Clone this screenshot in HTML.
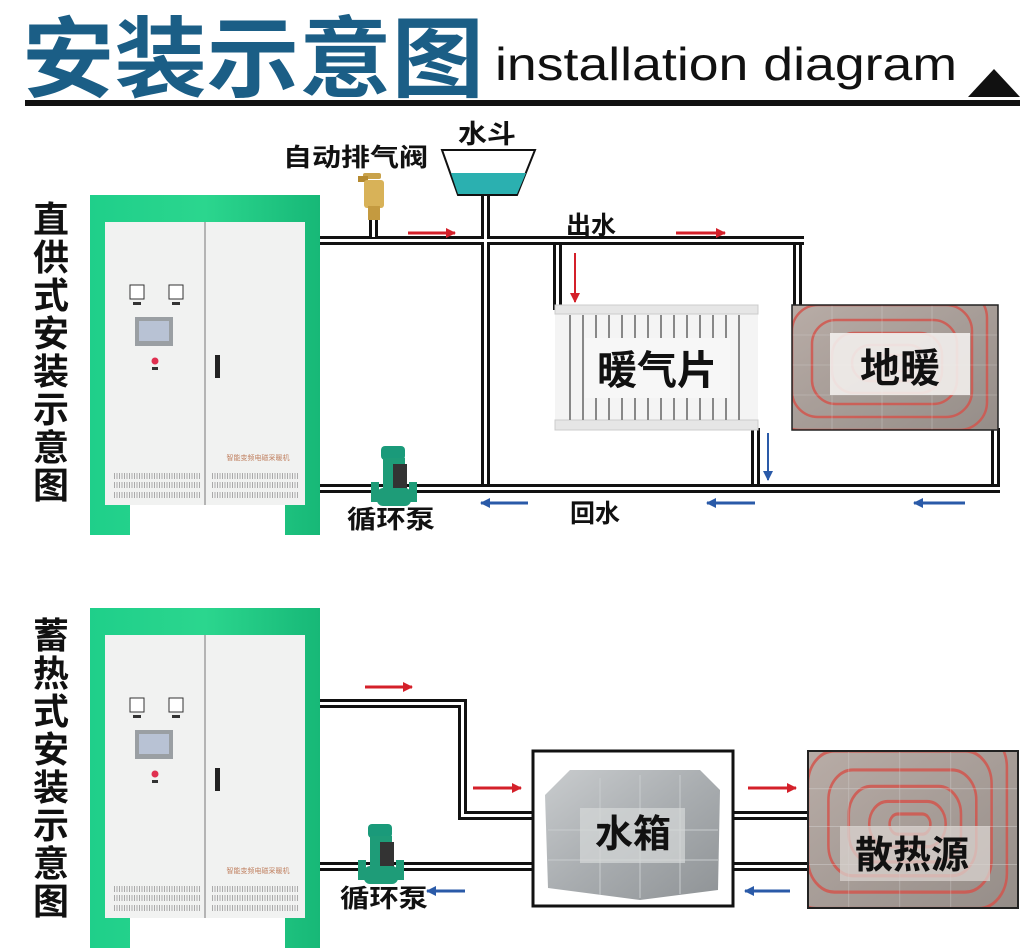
<!DOCTYPE html>
<html><head><meta charset="utf-8"><style>
html,body{margin:0;padding:0;background:#fff;}
svg{display:block;}
text{font-family:"Liberation Sans","Noto Sans CJK SC",sans-serif;}
</style></head><body>
<svg width="1025" height="950" viewBox="0 0 1025 950" xmlns="http://www.w3.org/2000/svg">
<defs>
  <marker id="ar" markerWidth="10" markerHeight="10" refX="9" refY="5" orient="auto" markerUnits="userSpaceOnUse"><path d="M0,0 L10,5 L0,10 Z" fill="#d4202a"/></marker>
  <marker id="ab" markerWidth="10" markerHeight="10" refX="9" refY="5" orient="auto" markerUnits="userSpaceOnUse"><path d="M0,0 L10,5 L0,10 Z" fill="#2a5aa8"/></marker>
  <linearGradient id="gr" x1="0" x2="1"><stop offset="0" stop-color="#1fcf8a"/><stop offset="0.5" stop-color="#2bd68e"/><stop offset="1" stop-color="#17b877"/></linearGradient>
  <linearGradient id="tank" x1="0" x2="1" y1="0" y2="1"><stop offset="0" stop-color="#c9ccce"/><stop offset="0.5" stop-color="#a9adb0"/><stop offset="1" stop-color="#8f9396"/></linearGradient>
  <linearGradient id="floor" x1="0" x2="1" y1="0" y2="1"><stop offset="0" stop-color="#b8aca6"/><stop offset="1" stop-color="#958d88"/></linearGradient>
  <clipPath id="fc"><rect x="0" y="0" width="206" height="125"/></clipPath>
  <g id="cab">
    <path d="M90,195 H320 V535 H285 V505 H130 V535 H90 Z" fill="url(#gr)"/>
    <rect x="105" y="222" width="200" height="283" fill="#f1f2f1"/>
    <line x1="205" y1="222" x2="205" y2="505" stroke="#777" stroke-width="1"/>
    <rect x="130" y="285" width="14" height="14" fill="#fff" stroke="#333"/>
    <rect x="169" y="285" width="14" height="14" fill="#fff" stroke="#333"/>
    <rect x="133" y="302" width="8" height="3" fill="#333"/>
    <rect x="172" y="302" width="8" height="3" fill="#333"/>
    <rect x="135" y="317" width="38" height="29" fill="#9a9fa3"/>
    <rect x="139" y="321" width="30" height="20" fill="#b8c2d4"/>
    <circle cx="155" cy="361" r="3.5" fill="#e03050"/>
    <rect x="152" y="367" width="6" height="3" fill="#333"/>
    <rect x="215" y="355" width="5" height="23" fill="#222"/>
    <g stroke="#aaa" stroke-width="6" stroke-dasharray="1 1.5">
      <line x1="114" y1="476" x2="200" y2="476"/><line x1="114" y1="485" x2="200" y2="485"/><line x1="114" y1="495" x2="200" y2="495"/>
      <line x1="212" y1="476" x2="298" y2="476"/><line x1="212" y1="485" x2="298" y2="485"/><line x1="212" y1="495" x2="298" y2="495"/>
    </g>
    <text x="258" y="460" font-size="7" fill="#c08060" text-anchor="middle">智能变频电磁采暖机</text>
  </g>
  <g id="pump">
    <rect x="-12" y="-42" width="24" height="14" rx="4" fill="#1a9a7a"/>
    <rect x="-10" y="-30" width="22" height="32" fill="#1e9c78"/>
    <rect x="0" y="-24" width="14" height="26" fill="#333"/>
    <rect x="-22" y="-6" width="8" height="20" fill="#1e9c78"/>
    <rect x="16" y="-6" width="8" height="20" fill="#1e9c78"/>
    <rect x="-16" y="0" width="34" height="18" rx="6" fill="#1e9c78"/>
  </g>
  <g id="floorimg">
    <g clip-path="url(#fc)">
    <rect x="0" y="0" width="206" height="125" fill="url(#floor)"/>
    <g fill="none" stroke="#d2564e" stroke-width="2.5" opacity="0.85">
      <rect x="-40" y="-30" width="250" height="170" rx="30"/>
      <rect x="-20" y="-15" width="215" height="140" rx="28"/>
      <rect x="0" y="0" width="180" height="112" rx="26"/>
      <rect x="20" y="15" width="145" height="84" rx="24"/>
      <rect x="40" y="28" width="110" height="60" rx="22"/>
      <rect x="60" y="40" width="75" height="36" rx="18"/>
      <rect x="80" y="50" width="40" height="16" rx="8"/>
    </g>
    <g stroke="#ddd" stroke-width="0.6" opacity="0.5">
      <line x1="0" y1="30" x2="206" y2="30"/><line x1="0" y1="60" x2="206" y2="60"/><line x1="0" y1="90" x2="206" y2="90"/>
      <line x1="40" y1="0" x2="40" y2="125"/><line x1="90" y1="0" x2="90" y2="125"/><line x1="140" y1="0" x2="140" y2="125"/>
    </g>
    </g>
  </g>
</defs>

<!-- Header -->
<text x="22" y="90" font-size="88" font-weight="bold" fill="#1b5e86" textLength="462" lengthAdjust="spacingAndGlyphs">安装示意图</text>
<text x="495" y="80" font-size="46" fill="#111" textLength="462" lengthAdjust="spacingAndGlyphs">installation diagram</text>
<rect x="25" y="100" width="995" height="6" fill="#111"/>
<path d="M968,97 L994,69 L1020,97 Z" fill="#111"/>

<!-- Side labels -->
<g font-size="36" font-weight="bold" fill="#111" text-anchor="middle">
  <text x="51" y="232">直</text><text x="51" y="270">供</text><text x="51" y="308">式</text><text x="51" y="346">安</text>
  <text x="51" y="384">装</text><text x="51" y="422">示</text><text x="51" y="460">意</text><text x="51" y="498">图</text>
  <text x="51" y="648">蓄</text><text x="51" y="686">热</text><text x="51" y="724">式</text><text x="51" y="762">安</text>
  <text x="51" y="800">装</text><text x="51" y="838">示</text><text x="51" y="876">意</text><text x="51" y="914">图</text>
</g>

<use href="#cab"/>
<use href="#cab" transform="translate(0,413)"/>

<!-- Top pipes -->
<g fill="#111">
  <rect x="320" y="236" width="484" height="9"/>
  <rect x="320" y="484" width="680" height="9"/>
  <rect x="481" y="195" width="9" height="298"/>
  <rect x="369" y="218" width="9" height="24"/>
  <rect x="553" y="240" width="9" height="70"/>
  <rect x="793" y="240" width="9" height="66"/>
  <rect x="751" y="428" width="9" height="60"/>
  <rect x="991" y="428" width="9" height="60"/>
</g>
<g fill="#fff">
  <rect x="320" y="239" width="484" height="3"/>
  <rect x="320" y="487" width="680" height="3"/>
  <rect x="484" y="195" width="3" height="289"/>
  <rect x="372" y="218" width="3" height="19"/>
  <rect x="556" y="245" width="3" height="65"/>
  <rect x="796" y="245" width="3" height="61"/>
  <rect x="754" y="428" width="3" height="56"/>
  <rect x="994" y="428" width="3" height="56"/>
</g>

<!-- valve -->
<rect x="363" y="173" width="18" height="6" rx="2" fill="#c9a24a"/>
<rect x="358" y="176" width="10" height="6" fill="#b58a30"/>
<rect x="364" y="180" width="20" height="28" rx="3" fill="#d8b258"/>
<rect x="368" y="206" width="12" height="14" fill="#c49a40"/>
<text x="283" y="166" font-size="25" font-weight="bold" fill="#111" textLength="145" lengthAdjust="spacingAndGlyphs">自动排气阀</text>

<!-- funnel -->
<path d="M442,150 L535,150 L517,195 L458,195 Z" fill="#fff" stroke="#111" stroke-width="2"/>
<path d="M451,173 L526,173 L517,194 L458,194 Z" fill="#2bb0b0"/>
<text x="458" y="143" font-size="26" font-weight="bold" fill="#111" textLength="58" lengthAdjust="spacingAndGlyphs">水斗</text>

<text x="566" y="234" font-size="25" font-weight="bold" fill="#111">出水</text>
<text x="570" y="522" font-size="25" font-weight="bold" fill="#111">回水</text>

<!-- radiator -->
<rect x="555" y="305" width="203" height="125" fill="#f4f4f4"/>
<rect x="555" y="305" width="203" height="9" fill="#e6e6e6" stroke="#ccc"/>
<rect x="555" y="420" width="203" height="10" fill="#e6e6e6" stroke="#ccc"/>
<g stroke="#888" stroke-width="2">
  <line x1="570" y1="315" x2="570" y2="420"/><line x1="583" y1="315" x2="583" y2="420"/><line x1="596" y1="315" x2="596" y2="420"/>
  <line x1="609" y1="315" x2="609" y2="420"/><line x1="622" y1="315" x2="622" y2="420"/><line x1="635" y1="315" x2="635" y2="420"/>
  <line x1="648" y1="315" x2="648" y2="420"/><line x1="661" y1="315" x2="661" y2="420"/><line x1="674" y1="315" x2="674" y2="420"/>
  <line x1="687" y1="315" x2="687" y2="420"/><line x1="700" y1="315" x2="700" y2="420"/><line x1="713" y1="315" x2="713" y2="420"/>
  <line x1="726" y1="315" x2="726" y2="420"/><line x1="739" y1="315" x2="739" y2="420"/>
</g>
<rect x="585" y="338" width="145" height="60" fill="#f7f7f7"/>
<text x="657" y="384" font-size="40" font-weight="bold" fill="#111" text-anchor="middle">暖气片</text>

<!-- floor heating -->
<g transform="translate(792,305)"><use href="#floorimg"/></g>
<rect x="792" y="305" width="206" height="125" fill="none" stroke="#222" stroke-width="1.5"/>
<rect x="830" y="333" width="140" height="62" fill="#f2eeec" opacity="0.9"/>
<text x="900" y="382" font-size="40" font-weight="bold" fill="#111" text-anchor="middle">地暖</text>

<!-- arrows top -->
<g stroke-width="3" fill="none">
  <line x1="408" y1="233" x2="455" y2="233" stroke="#d4202a" marker-end="url(#ar)"/>
  <line x1="676" y1="233" x2="725" y2="233" stroke="#d4202a" marker-end="url(#ar)"/>
  <line x1="575" y1="253" x2="575" y2="302" stroke="#d4202a" stroke-width="2" marker-end="url(#ar)"/>
  <line x1="528" y1="503" x2="481" y2="503" stroke="#2a5aa8" marker-end="url(#ab)"/>
  <line x1="755" y1="503" x2="707" y2="503" stroke="#2a5aa8" marker-end="url(#ab)"/>
  <line x1="965" y1="503" x2="914" y2="503" stroke="#2a5aa8" marker-end="url(#ab)"/>
  <line x1="768" y1="433" x2="768" y2="480" stroke="#2a5aa8" stroke-width="2" marker-end="url(#ab)"/>
</g>

<use href="#pump" transform="translate(393,488)"/>
<text x="347" y="528" font-size="25" font-weight="bold" fill="#111" textLength="88" lengthAdjust="spacingAndGlyphs">循环泵</text>

<!-- Bottom pipes -->
<g fill="#111">
  <rect x="320" y="699" width="146" height="9"/>
  <rect x="458" y="699" width="9" height="121"/>
  <rect x="458" y="811" width="76" height="9"/>
  <rect x="320" y="862" width="214" height="9"/>
  <rect x="733" y="811" width="76" height="9"/>
  <rect x="733" y="862" width="76" height="9"/>
</g>
<g fill="#fff">
  <rect x="320" y="702" width="143" height="3"/>
  <rect x="461" y="702" width="3" height="112"/>
  <rect x="461" y="814" width="73" height="3"/>
  <rect x="320" y="865" width="214" height="3"/>
  <rect x="733" y="814" width="76" height="3"/>
  <rect x="733" y="865" width="76" height="3"/>
</g>

<!-- tank -->
<rect x="533" y="751" width="200" height="155" fill="#fff" stroke="#111" stroke-width="3"/>
<path d="M545,795 L570,770 L700,770 L720,790 L718,890 L640,900 L548,888 Z" fill="url(#tank)"/>
<g stroke="#c8ccce" stroke-width="1">
  <line x1="600" y1="778" x2="600" y2="895"/><line x1="640" y1="775" x2="640" y2="898"/><line x1="680" y1="775" x2="680" y2="894"/>
  <line x1="548" y1="830" x2="718" y2="830"/><line x1="548" y1="860" x2="718" y2="860"/>
</g>
<rect x="580" y="808" width="105" height="55" fill="#d6d8d9" opacity="0.7"/>
<text x="633" y="847" font-size="38" font-weight="bold" fill="#111" text-anchor="middle">水箱</text>

<!-- heat source -->
<g transform="translate(808,751) scale(1.02,1.26)"><use href="#floorimg"/></g>
<rect x="808" y="751" width="210" height="157" fill="none" stroke="#222" stroke-width="2"/>
<rect x="840" y="826" width="150" height="55" fill="#d9d3cf" opacity="0.75"/>
<text x="912" y="868" font-size="38" font-weight="bold" fill="#111" text-anchor="middle">散热源</text>

<!-- arrows bottom -->
<g stroke-width="3" fill="none">
  <line x1="365" y1="687" x2="412" y2="687" stroke="#d4202a" marker-end="url(#ar)"/>
  <line x1="473" y1="788" x2="521" y2="788" stroke="#d4202a" marker-end="url(#ar)"/>
  <line x1="748" y1="788" x2="796" y2="788" stroke="#d4202a" marker-end="url(#ar)"/>
  <line x1="465" y1="891" x2="427" y2="891" stroke="#2a5aa8" marker-end="url(#ab)"/>
  <line x1="790" y1="891" x2="745" y2="891" stroke="#2a5aa8" marker-end="url(#ab)"/>
</g>

<use href="#pump" transform="translate(380,866)"/>
<text x="340" y="907" font-size="25" font-weight="bold" fill="#111" textLength="88" lengthAdjust="spacingAndGlyphs">循环泵</text>
</svg>
</body></html>
